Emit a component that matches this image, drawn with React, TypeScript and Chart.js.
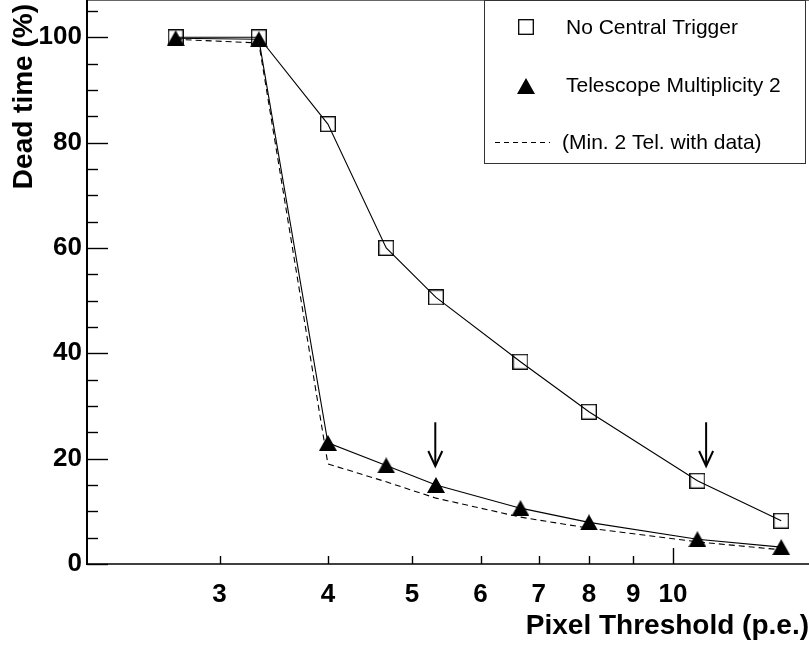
import React, { useEffect, useRef } from 'react';
import { Chart, registerables } from 'chart.js';

Chart.register(...registerables);

// ---- data ----
const thresholds = [2.67, 3.33, 4, 4.67, 5.33, 6.67, 8, 10.67, 13.33];
const noCentralTrigger = [100, 100, 83.5, 60.0, 50.6, 38.4, 28.9, 15.8, 8.2];
const telescopeMult2 = [99.8, 99.6, 23.0, 18.7, 15.0, 10.6, 7.9, 4.7, 3.2];
const minTwoTelWithData = [99.6, 98.9, 19.0, 15.6, 12.5, 8.9, 6.8, 4.2, 2.7];
const seriesLabels = ['No Central Trigger', 'Telescope Multiplicity 2', '(Min. 2 Tel. with data)'];

const xTickValues = [3, 4, 5, 6, 7, 8, 9, 10];
const xLongTickValues = [10];
const yTickValues = [0, 20, 40, 60, 80, 100];
const yMinorTickValues = [5, 10, 15, 25, 30, 35, 45, 50, 55, 65, 70, 75, 85, 90, 95, 105];

const arrowXValues = [5.32, 10.92];
const arrowFromValue = 26.9;
const arrowToValue = 18.6;

const xTitle = 'Pixel Threshold (p.e.)';
const yTitle = 'Dead time (%)';

const FONT = '"Liberation Sans", Arial, Helvetica, sans-serif';

function makeSquare(): HTMLCanvasElement {
  const c = document.createElement('canvas');
  c.width = 16;
  c.height = 16;
  const g = c.getContext('2d')!;
  g.strokeStyle = '#000';
  g.lineWidth = 1.3;
  g.strokeRect(0.7, 0.7, 14.6, 14.6);
  return c;
}

function makeTriangle(): HTMLCanvasElement {
  const c = document.createElement('canvas');
  c.width = 18;
  c.height = 16;
  const g = c.getContext('2d')!;
  g.fillStyle = '#000';
  g.beginPath();
  g.moveTo(9, 0);
  g.lineTo(18, 16);
  g.lineTo(0, 16);
  g.closePath();
  g.fill();
  return c;
}

function zeroPadding(s: any) {
  s.paddingTop = 0;
  s.paddingBottom = 0;
  s.paddingLeft = 0;
  s.paddingRight = 0;
}

export default function App() {
  const ref = useRef<HTMLCanvasElement | null>(null);

  useEffect(() => {
    const canvas = ref.current;
    if (!canvas) return;
    const square = makeSquare();
    const triangle = makeTriangle();

    const overlay = {
      id: 'overlay',
      afterDraw(chart: any) {
        const { ctx, chartArea } = chart;
        const xs = chart.scales.x;
        const ys = chart.scales.y;
        const left = chartArea.left;
        const bottom = chartArea.bottom;
        const W = chart.width;
        const seg = (a: number, b: number, c: number, d: number) => {
          ctx.beginPath();
          ctx.moveTo(a, b);
          ctx.lineTo(c, d);
          ctx.stroke();
        };
        ctx.save();
        ctx.setLineDash([]);
        // frame top
        ctx.strokeStyle = '#666';
        ctx.lineWidth = 1;
        seg(left, 0.5, W, 0.5);
        // axes
        ctx.strokeStyle = '#000';
        ctx.lineWidth = 2;
        seg(left, 0, left, bottom + 1);
        ctx.lineWidth = 1.6;
        seg(left - 1, bottom, W, bottom);
        // y ticks (inward)
        ctx.lineWidth = 1.4;
        yTickValues.forEach((v) => {
          const py = Math.round(ys.getPixelForValue(v)) + 0.5;
          seg(left, py, left + 21, py);
        });
        yMinorTickValues.forEach((v) => {
          const py = Math.round(ys.getPixelForValue(v)) + 0.5;
          seg(left, py, left + 11, py);
        });
        // x ticks (inward)
        xTickValues.forEach((v) => {
          const px = Math.round(xs.getPixelForValue(v)) + 0.5;
          const len = xLongTickValues.includes(v) ? 16 : 8;
          seg(px, bottom, px, bottom - len);
        });
        // arrows
        ctx.lineWidth = 2;
        arrowXValues.forEach((v) => {
          const px = xs.getPixelForValue(v);
          const y0 = ys.getPixelForValue(arrowFromValue);
          const y1 = ys.getPixelForValue(arrowToValue);
          seg(px, y0, px, y1);
          ctx.beginPath();
          ctx.moveTo(px - 7, y1 - 15);
          ctx.lineTo(px, y1);
          ctx.lineTo(px + 7, y1 - 15);
          ctx.stroke();
        });
        // legend box
        ctx.fillStyle = '#fff';
        ctx.fillRect(484, 0, 321, 163);
        ctx.strokeStyle = '#333';
        ctx.lineWidth = 1;
        ctx.strokeRect(484.5, 0.5, 321, 163);
        ctx.fillStyle = '#000';
        ctx.font = `21px ${FONT}`;
        ctx.textBaseline = 'middle';
        ctx.textAlign = 'left';
        ctx.drawImage(square, 526 - 8, 27 - 8);
        ctx.fillText(seriesLabels[0], 566, 28);
        ctx.drawImage(triangle, 526 - 9, 86 - 8);
        ctx.fillText(seriesLabels[1], 566, 86);
        ctx.strokeStyle = '#000';
        ctx.lineWidth = 1;
        ctx.setLineDash([5, 4]);
        seg(495, 142.5, 550, 142.5);
        ctx.setLineDash([]);
        ctx.fillText(seriesLabels[2], 562, 143);
        ctx.restore();
      },
    };

    const chart = new Chart(canvas, {
      type: 'line',
      data: {
        labels: thresholds,
        datasets: [
          {
            label: seriesLabels[0],
            data: thresholds.map((t, i) => ({ x: t, y: noCentralTrigger[i] })),
            borderColor: '#000',
            borderWidth: 1.1,
            pointStyle: square as any,
            pointRadius: 8,
            tension: 0,
          },
          {
            label: seriesLabels[1],
            data: thresholds.map((t, i) => ({ x: t, y: telescopeMult2[i] })),
            borderColor: '#000',
            borderWidth: 1.1,
            pointStyle: triangle as any,
            pointRadius: 8,
            tension: 0,
          },
          {
            label: seriesLabels[2],
            data: thresholds.map((t, i) => ({ x: t, y: minTwoTelWithData[i] })),
            borderColor: '#000',
            borderWidth: 1.1,
            borderDash: [6, 4],
            pointRadius: 0,
            tension: 0,
          },
        ],
      },
      options: {
        responsive: false,
        animation: false,
        devicePixelRatio: 1,
        layout: { autoPadding: false, padding: { top: 4, right: 0, bottom: 0, left: 0 } },
        plugins: { legend: { display: false }, tooltip: { enabled: false } },
        scales: {
          x: {
            type: 'logarithmic',
            min: 2.11,
            max: 14.35,
            grid: { display: false, drawTicks: false },
            border: { display: false },
            afterFit: (s: any) => {
              s.height = 82;
              zeroPadding(s);
            },
            afterBuildTicks: (s: any) => {
              s.ticks = xTickValues.map((v) => ({ value: v }));
            },
            ticks: {
              autoSkip: false,
              maxRotation: 0,
              padding: 18,
              color: '#000',
              font: { family: FONT, size: 26, weight: 'bold', lineHeight: 1 },
              callback: (v: any) => String(v),
            },
            title: {
              display: true,
              text: xTitle,
              align: 'end',
              color: '#000',
              font: { family: FONT, size: 28, weight: 'bold', lineHeight: 1 },
              padding: { top: 0, bottom: 6 },
            },
          },
          y: {
            type: 'linear',
            min: 0,
            max: 106.3,
            grid: { display: false, drawTicks: false },
            border: { display: false },
            afterFit: (s: any) => {
              s.width = 87;
              zeroPadding(s);
            },
            afterBuildTicks: (s: any) => {
              s.ticks = yTickValues.map((v) => ({ value: v }));
            },
            ticks: {
              padding: 5,
              color: '#000',
              font: { family: FONT, size: 26, weight: 'bold', lineHeight: 1 },
              callback: (v: any) => String(v),
            },
            title: {
              display: true,
              text: yTitle,
              align: 'end',
              color: '#000',
              font: { family: FONT, size: 28, weight: 'bold', lineHeight: 1 },
              padding: { top: 10, bottom: 0 },
            },
          },
        },
      },
      plugins: [overlay],
    } as any);

    return () => chart.destroy();
  }, []);

  return (
    <div style={{ position: 'fixed', left: 0, top: 0, width: 809, height: 646, background: '#fff' }}>
      <canvas ref={ref} width={809} height={646} style={{ display: 'block', width: 809, height: 646 }} />
    </div>
  );
}
